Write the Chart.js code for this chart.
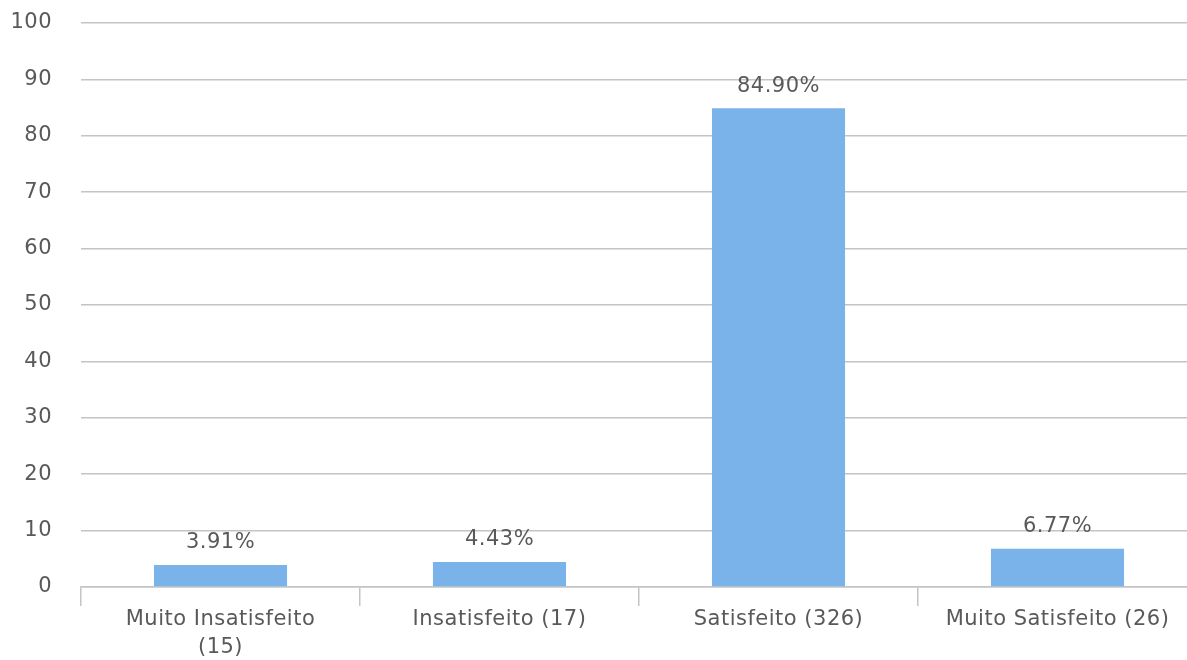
<!DOCTYPE html>
<html>
<head>
<meta charset="utf-8">
<script src="https://cdn.jsdelivr.net/npm/chart.js@4.4.0/dist/chart.umd.min.js"></script>
<style>
  html, body { margin: 0; padding: 0; background: #fff; overflow: hidden; }
  .wrap { width: 1200px; height: 660px; }
</style>
</head>
<body>
<div class="wrap"><canvas id="satChart"></canvas></div>
<script>
const categories = [["Muito Insatisfeito", "(15)"], "Insatisfeito (17)", "Satisfeito (326)", "Muito Satisfeito (26)"];
const percentages = [3.91, 4.43, 84.90, 6.77];
const valueLabels = ["3.91%", "4.43%", "84.90%", "6.77%"];

const textColor = "#595959";
const gridColor = "#c4c4c4";
const fontFamily = "'DejaVu Sans', Verdana, sans-serif";

// slightly wider text spacing, like the original
const spacing = {
    id: "spacing",
    beforeUpdate(chart) { chart.ctx.letterSpacing = "0.5px"; },
    beforeDraw(chart) { chart.ctx.letterSpacing = "0.5px"; }
};

// draws the percentage above each bar
const barLabels = {
    id: "barLabels",
    afterDatasetsDraw(chart) {
        const ctx = chart.ctx;
        const meta = chart.getDatasetMeta(0);
        ctx.save();
        ctx.font = "21px " + fontFamily;
        ctx.fillStyle = textColor;
        ctx.textAlign = "center";
        ctx.textBaseline = "middle";
        meta.data.forEach((bar, i) => {
            ctx.fillText(valueLabels[i], bar.x, bar.y - 22);
        });
        ctx.restore();
    }
};

document.addEventListener("DOMContentLoaded", () => {
    const ctx = document.getElementById("satChart").getContext("2d");

    new Chart(ctx, {
        type: "bar",
        data: {
            labels: categories,
            datasets: [{
                data: percentages,
                backgroundColor: "#79b3ea",
                barPercentage: 0.477,
                categoryPercentage: 1
            }]
        },
        options: {
            responsive: true,
            maintainAspectRatio: false,
            animation: false,
            layout: { padding: { top: 23, right: 3, left: 0, bottom: 0 } },
            plugins: { legend: { display: false }, tooltip: { enabled: false } },
            scales: {
                x: {
                    offset: true,
                    grid: { display: true, drawOnChartArea: false, color: gridColor, tickLength: 19, lineWidth: 1.5 },
                    border: { color: gridColor, width: 1.5 },
                    ticks: { color: textColor, font: { family: fontFamily, size: 21, lineHeight: 1.33 }, padding: 0, maxRotation: 0, autoSkip: false },
                    afterFit: (axis) => { axis.height = 73; }
                },
                y: {
                    min: 0,
                    max: 100,
                    ticks: { stepSize: 10, color: textColor, font: { family: fontFamily, size: 21 }, padding: 29 },
                    grid: { color: gridColor, lineWidth: 1.5, drawTicks: false },
                    border: { display: false },
                    afterFit: (axis) => { axis.width = 81; axis.paddingTop = 0; axis.paddingBottom = 0; }
                }
            }
        },
        plugins: [spacing, barLabels]
    });
});
</script>
</body>
</html>
